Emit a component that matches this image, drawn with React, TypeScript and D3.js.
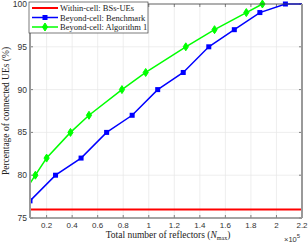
import React from "react";
import { scaleLinear, line } from "d3";

const benchX = [0.07, 0.27, 0.47, 0.67, 0.87, 1.07, 1.27, 1.47, 1.67, 1.87, 2.07, 2.27];
const benchY = [77, 80, 82, 85, 87, 90, 92, 95, 97, 99, 100, 100];
const algX = [0.025, 0.112, 0.2, 0.387, 0.532, 0.79, 0.976, 1.29, 1.515, 1.764, 1.89];
const algY = [78, 80, 82, 85, 87, 90, 92, 95, 97, 99, 100];
const withinX = [0.07, 2.2];
const withinY = [76, 76];
const xTicks = [0.2, 0.4, 0.6, 0.8, 1, 1.2, 1.4, 1.6, 1.8, 2, 2.2];
const yTicks = [75, 80, 85, 90, 95, 100];

const W = 308;
const H = 244;
const m = { left: 30, right: 6, top: 4, bottom: 26 };

export default function App() {
  const x = scaleLinear().domain([0.07, 2.2]).range([m.left, W - m.right]);
  const y = scaleLinear().domain([75, 100]).range([H - m.bottom, m.top]);
  const path = line<[number, number]>()
    .x((d) => x(d[0]))
    .y((d) => y(d[1]));
  const zip = (a: number[], b: number[]) => a.map((v, i) => [v, b[i]] as [number, number]);

  const bench = zip(benchX, benchY);
  const alg = zip(algX, algY);
  const within = zip(withinX, withinY);

  const x0 = m.left;
  const x1 = W - m.right;
  const y0 = H - m.bottom;
  const y1 = m.top;
  const serif = "'Liberation Serif', 'DejaVu Serif', serif";
  const sans = "'Liberation Sans', Arial, sans-serif";

  const diamond = (cx: number, cy: number, k: string) => (
    <path key={k} d={`M${cx},${cy - 4}L${cx + 2.6},${cy}L${cx},${cy + 4}L${cx - 2.6},${cy}Z`} fill="#00ff00" stroke="#00ff00" />
  );

  return (
    <svg width={W} height={H} style={{ position: "absolute", left: 0, top: 0, background: "#fff" }}>
      <defs>
        <clipPath id="plot">
          <rect x={x0} y={y1 - 5} width={x1 - x0} height={y0 - y1 + 5} />
        </clipPath>
      </defs>
      {/* grid */}
      {xTicks.map((t) => (
        <line key={`gx${t}`} x1={x(t)} x2={x(t)} y1={y1} y2={y0} stroke="#e6e6e6" strokeWidth={0.7} />
      ))}
      {yTicks.map((t) => (
        <line key={`gy${t}`} x1={x0} x2={x1} y1={y(t)} y2={y(t)} stroke="#e6e6e6" strokeWidth={0.7} />
      ))}
      {/* ticks */}
      {xTicks.map((t) => (
        <g key={`tx${t}`}>
          <line x1={x(t)} x2={x(t)} y1={y0} y2={y0 - 3} stroke="#333" strokeWidth={0.6} />
          <line x1={x(t)} x2={x(t)} y1={y1} y2={y1 + 3} stroke="#333" strokeWidth={0.6} />
          <text x={x(t)} y={y0 + 10} textAnchor="middle" fontFamily={sans} fontSize={8} fill="#333">
            {t}
          </text>
        </g>
      ))}
      {yTicks.map((t) => (
        <g key={`ty${t}`}>
          <line x1={x0} x2={x0 + 3} y1={y(t)} y2={y(t)} stroke="#333" strokeWidth={0.6} />
          <line x1={x1} x2={x1 - 3} y1={y(t)} y2={y(t)} stroke="#333" strokeWidth={0.6} />
          <text x={x0 - 3} y={y(t) + 3} textAnchor="end" fontFamily={sans} fontSize={8.5} fill="#333">
            {t}
          </text>
        </g>
      ))}
      {/* series */}
      <g clipPath="url(#plot)">
        <path d={path(within) ?? ""} fill="none" stroke="#ff0000" strokeWidth={2} />
        <path d={path(bench) ?? ""} fill="none" stroke="#0000ff" strokeWidth={1.5} />
        {bench.map((d, i) => (
          <rect key={`b${i}`} x={x(d[0]) - 2.5} y={y(d[1]) - 2.5} width={5} height={5} fill="#0000ff" />
        ))}
        <path d={path(alg) ?? ""} fill="none" stroke="#00ff00" strokeWidth={1.5} />
        {alg.map((d, i) => diamond(x(d[0]), y(d[1]), `a${i}`))}
      </g>
      {/* axes box */}
      <line x1={x0} x2={x1} y1={y1} y2={y1} stroke="#444" strokeWidth={0.8} />
      <line x1={x0} x2={x1} y1={y0} y2={y0} stroke="#888" strokeWidth={1.6} />
      <line x1={x0} x2={x0} y1={y1} y2={y0} stroke="#999" strokeWidth={2} />
      <line x1={x1} x2={x1} y1={y1} y2={y0} stroke="#999" strokeWidth={2} />
      {/* legend */}
      <g>
        <rect x={29} y={2} width={119} height={31} fill="#fff" stroke="#444" strokeWidth={0.7} />
        {[
          { label: "Within-cell: BSs-UEs", color: "#ff0000", mark: "none" },
          { label: "Beyond-cell: Benchmark", color: "#0000ff", mark: "square" },
          { label: "Beyond-cell: Algorithm 1", color: "#00ff00", mark: "diamond" },
        ].map((e, i) => {
          const ly = 8 + i * 9.5;
          return (
            <g key={e.label}>
              <line x1={32} x2={58} y1={ly} y2={ly} stroke={e.color} strokeWidth={e.mark === "none" ? 2 : 1.5} />
              {e.mark === "square" && <rect x={42.5} y={ly - 2.5} width={5} height={5} fill={e.color} />}
              {e.mark === "diamond" && diamond(45, ly, `ld${i}`)}
              <text x={60} y={ly + 3} fontFamily={serif} fontSize={8.5} fill="#222">
                {e.label}
              </text>
            </g>
          );
        })}
      </g>
      {/* axis labels */}
      <text
        transform={`translate(9, ${(y0 + y1) / 2}) rotate(-90)`}
        textAnchor="middle"
        fontFamily={serif}
        fontSize={9.5}
        fill="#222"
      >
        Percentage of connected UEs (%)
      </text>
      <text x={(x0 + x1) / 2 + 2} y={237.5} textAnchor="middle" fontFamily={serif} fontSize={9.5} fill="#222">
        Total number of reflectors (
        <tspan fontStyle="italic">N</tspan>
        <tspan fontSize={6} dy={2}>max</tspan>
        <tspan dy={-2}>)</tspan>
      </text>
      <text x={284} y={241.5} fontFamily={sans} fontSize={7.5} fill="#333">
        ×10
        <tspan fontSize={6} dy={-4}>5</tspan>
      </text>
    </svg>
  );
}
